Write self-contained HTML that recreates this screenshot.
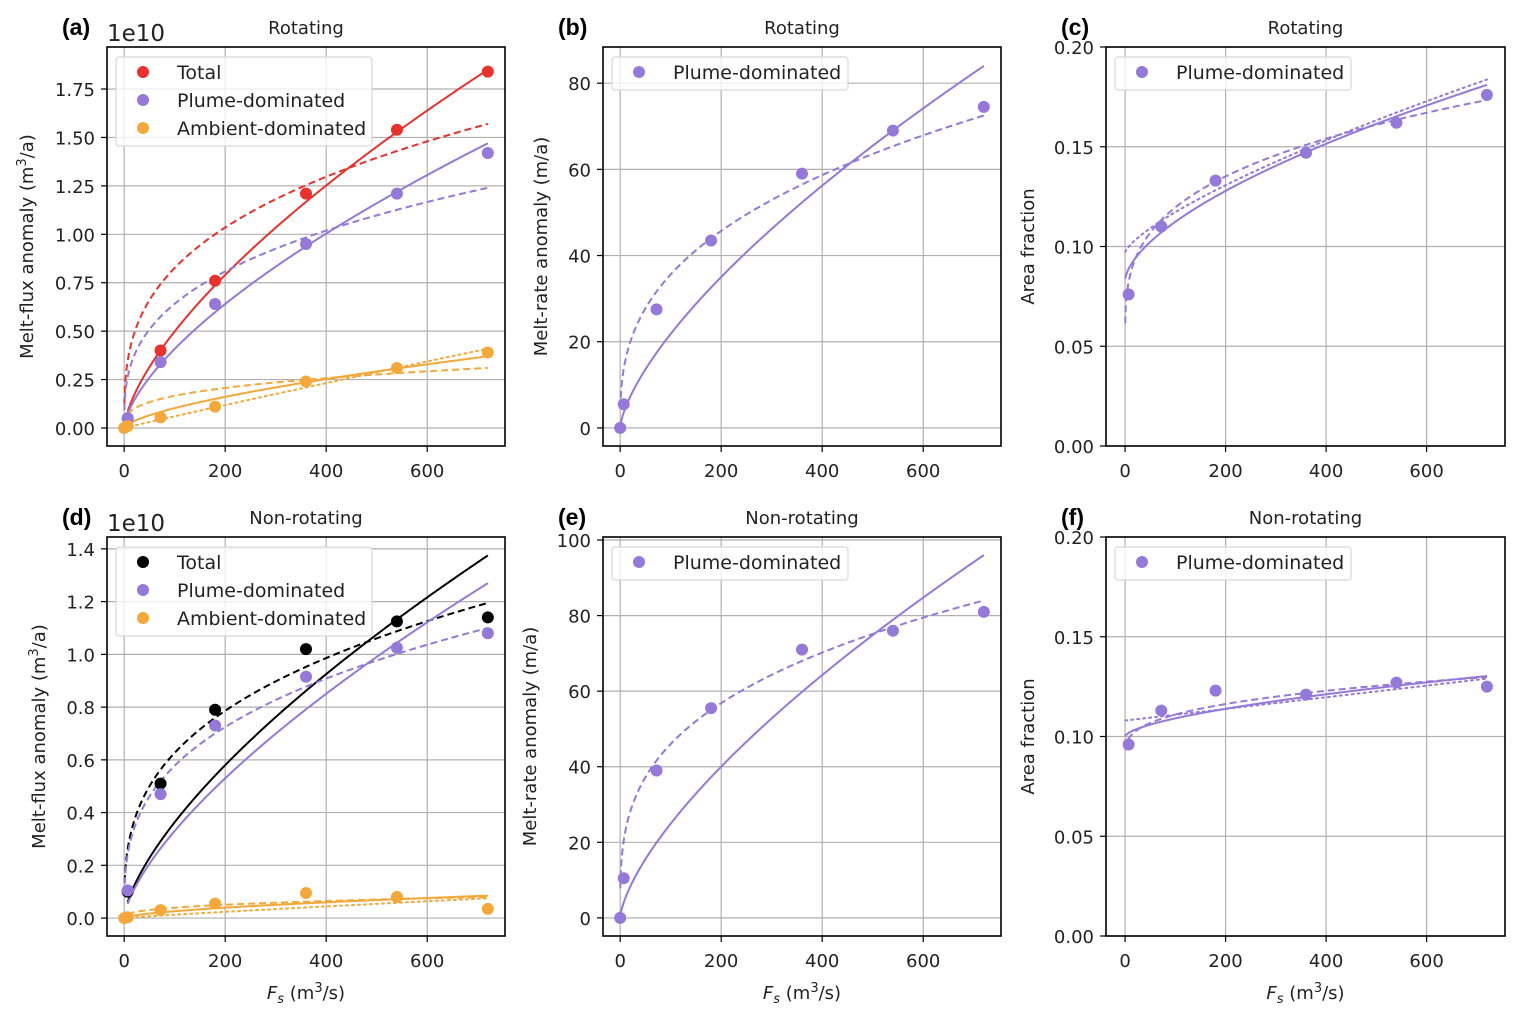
<!DOCTYPE html>
<html><head><meta charset="utf-8">
<style>
html,body{margin:0;padding:0;background:#fff;}
svg{display:block;font-family:"DejaVu Sans","Liberation Sans",sans-serif;}
</style></head>
<body>
<svg id="fig" width="1523" height="1018" viewBox="0 0 1523 1018" xmlns="http://www.w3.org/2000/svg"></svg>
<script>
// ---- data ----
const xsA = [0, 7, 72, 180, 360, 540, 720];
const xsP = [7, 72, 180, 360, 540, 720];
// panel a (rotating melt flux, 1e10)
const aTotal = [null, 0.05, 0.40, 0.76, 1.21, 1.54, 1.84];
const aPlume = [null, 0.05, 0.34, 0.64, 0.95, 1.21, 1.42];
const aAmb = [0, 0.01, 0.055, 0.11, 0.24, 0.31, 0.39];
// fits: [c, a_at_720, exponent]  y = c + a_at_720*(x/720)^b
const aTotalSolid = [0, 1.85, 0.664], aTotalDash = [0, 1.57, 0.325];
const aPlumeSolid = [0, 1.47, 0.649], aPlumeDash = [0, 1.24, 0.334];
const aAmbSolid = [0, 0.37, 0.65], aAmbDash = [0, 0.31, 0.316], aAmbDot = [0, 0.41, 0.97];
// panel d (non-rotating melt flux)
const dTotal = [null, 0.10, 0.51, 0.79, 1.02, 1.125, 1.14];
const dPlume = [null, 0.105, 0.47, 0.73, 0.915, 1.025, 1.08];
const dAmb = [0, 0.003, 0.03, 0.055, 0.095, 0.08, 0.035];
const dTotalSolid = [0, 1.375, 0.674], dTotalDash = [0, 1.195, 0.327];
const dPlumeSolid = [0, 1.27, 0.682], dPlumeDash = [0, 1.10, 0.326];
const dAmbSolid = [0, 0.085, 0.6], dAmbDash = [0, 0.08, 0.36], dAmbDot = [0, 0.075, 0.9];
// panel b / e (melt rate)
const bPlume = [0, 5.5, 27.5, 43.5, 59, 69, 74.5];
const bSolid = [0, 84, 0.683], bDash = [0, 72.5, 0.36];
const ePlume = [0, 10.5, 39, 55.5, 71, 76, 81];
const eSolid = [0, 96, 0.683], eDash = [0, 84, 0.305];
// panel c / f (area fraction)
const cPlume = [0.076, 0.110, 0.133, 0.147, 0.162, 0.176];
const cSolid = [0.083, 0.098, 0.61], cDash = [0.05, 0.1234, 0.29], cDot = [0.097, 0.0867, 0.737];
const fPlume = [0.096, 0.113, 0.123, 0.121, 0.127, 0.125];
const fSolid = [0.1, 0.0303, 0.61], fDash = [0.09, 0.0398, 0.324], fDot = [0.108, 0.021, 1.0];
const xTicks = [0, 200, 400, 600];
const aTicks = [0, 0.25, 0.5, 0.75, 1.0, 1.25, 1.5, 1.75];
const dTicks = [0, 0.2, 0.4, 0.6, 0.8, 1.0, 1.2, 1.4];
const bTicks = [0, 20, 40, 60, 80];
const eTicks = [0, 20, 40, 60, 80, 100];
const cTicks = [0, 0.05, 0.10, 0.15, 0.20];

const RED = '#e8322b', PUR = '#9478da', ORG = '#f4a83a', BLK = '#000';
const NS = 'http://www.w3.org/2000/svg';
const svg = document.getElementById('fig');
function mk(tag, attrs, parent) {
  const e = document.createElementNS(NS, tag);
  for (const k in attrs) e.setAttribute(k, attrs[k]);
  (parent || svg).appendChild(e);
  return e;
}
function panel(o) {
  const g = mk('g', {});
  
  
  const X = v => o.L + (v - o.xmin) / (o.xmax - o.xmin) * (o.R - o.L);
  const Y = v => o.B - (v - o.ymin) / (o.ymax - o.ymin) * (o.B - o.T);
  xTicks.forEach(t => {
    const l = mk('line', {x1: X(t), x2: X(t), y1: o.T, y2: o.B, stroke: '#b0b0b0', 'stroke-width': 1.2}, g);
    
    
  });
  o.yTicks.forEach(t => {
    const l = mk('line', {x1: o.L, x2: o.R, y1: Y(t), y2: Y(t), stroke: '#b0b0b0', 'stroke-width': 1.2}, g);
    
    
  });
  const cid = 'clip-' + o.name;
  const cp = mk('clipPath', {id: cid}, g);
  mk('rect', {x: o.L, y: o.T, width: o.R - o.L, height: o.B - o.T}, cp);
  const pg = mk('g', {'clip-path': 'url(#' + cid + ')'}, g);
  o.curves.forEach(c => {
    const p = c.fit; let d = '';
    for (let i = 0; i <= 400; i++) {
      const x = c.x0 + (720 - c.x0) * Math.pow(i / 400, 2);
      const y = p[0] + p[1] * Math.pow(x / 720, p[2]);
      d += (i ? 'L' : 'M') + X(x).toFixed(2) + ',' + Y(y).toFixed(2);
    }
    const dash = c.style === 'dash' ? '7,4' : c.style === 'dot' ? '2,4' : 'none';
    const path = mk('path', {d: d, fill: 'none', stroke: c.color, 'stroke-width': 2, 'stroke-dasharray': dash, 'stroke-linecap': c.style === 'dot' ? 'round' : 'butt'}, pg);
    
    
  });
  o.points.forEach(s => {
    s.vals.forEach((v, i) => {
      if (v === null) return;
      const c = mk('circle', {cx: X(s.xs[i]), cy: Y(v), r: 6, fill: s.color}, pg);
      
      
    });
  });
  const fr = mk('rect', {x: o.L, y: o.T, width: o.R - o.L, height: o.B - o.T, fill: 'none', stroke: '#000', 'stroke-width': 1.6}, g);
  
  
  xTicks.forEach(t => {
    mk('line', {x1: X(t), x2: X(t), y1: o.B, y2: o.B + 6, stroke: '#000', 'stroke-width': 1.2}, g);
    const tx = mk('text', {x: X(t), y: o.B + 31, 'text-anchor': 'middle', 'font-size': 18, fill: '#222'}, g);
    tx.textContent = t;
    
    
  });
  o.yTicks.forEach(t => {
    mk('line', {x1: o.L - 6, x2: o.L, y1: Y(t), y2: Y(t), stroke: '#000', 'stroke-width': 1.2}, g);
    const tx = mk('text', {x: o.L - 12, y: Y(t) + 7, 'text-anchor': 'end', 'font-size': 18, fill: '#222'}, g);
    tx.textContent = t.toFixed(o.dec);
    
    
  });
  const ti = mk('text', {x: (o.L + o.R) / 2, y: o.T - 13, 'text-anchor': 'middle', 'font-size': 18, fill: '#222'}, g);
  ti.textContent = o.title;
  
  
  const lt = mk('text', {x: o.L - 45, y: o.T - 12, 'font-size': 23, 'font-weight': 'bold', 'font-family': 'Liberation Sans, sans-serif', fill: '#000'}, g);
  lt.textContent = o.letter;
  
  
  if (o.offset) {
    const of = mk('text', {x: o.L, y: o.T - 6, 'font-size': 23, fill: '#222'}, g);
    of.textContent = '1e10';
    
    
  }
  const yl = mk('text', {x: o.ylx, y: (o.T + o.B) / 2, 'text-anchor': 'middle', 'font-size': 18, fill: '#222', transform: 'rotate(-90 ' + o.ylx + ' ' + (o.T + o.B) / 2 + ')'}, g);
  yl.innerHTML = o.ylabel;
  
  
  if (o.xlabel) {
    const xl = mk('text', {x: (o.L + o.R) / 2, y: o.B + 63, 'text-anchor': 'middle', 'font-size': 18, fill: '#222'}, g);
    xl.innerHTML = '<tspan font-style="italic">F</tspan><tspan font-style="italic" font-size="13" dy="4">s</tspan><tspan dy="-4"> (m</tspan><tspan font-size="13" dy="-7">3</tspan><tspan dy="7">/s)</tspan>';
    
    
  }
  const lg = mk('g', {}, g);
  
  
  const n = o.legend.length;
  mk('rect', {x: o.L + 9, y: o.T + 10, width: o.legW, height: 28 * n + 5, rx: 3, fill: 'rgba(255,255,255,0.8)', stroke: '#d8d8d8', 'stroke-width': 1.2}, lg);
  o.legend.forEach((e, i) => {
    const cy = o.T + 25 + 28 * i;
    const c = mk('circle', {cx: o.L + 36, cy: cy, r: 6, fill: e[1]}, lg);
    
    
    const t = mk('text', {x: o.L + 70, y: cy + 7, 'font-size': 19, fill: '#222'}, lg);
    t.textContent = e[0];
    
    
  });
}
const MF = 'Melt-flux anomaly (m<tspan font-size="13" dy="-7">3</tspan><tspan dy="7">/a)</tspan>';
const legFull = (tc) => [['Total', tc], ['Plume-dominated', PUR], ['Ambient-dominated', ORG]];
panel({name: 'panel-a', letter: '(a)', title: 'Rotating', L: 107, R: 505, T: 47, B: 446, xmin: -34, xmax: 754, ymin: -0.093, ymax: 1.967,
  yTicks: aTicks, dec: 2, offset: true, ylx: 33, ylabel: MF, legend: legFull(RED), legW: 256,
  curves: [
    {name: 'total-fit-solid', fit: aTotalSolid, color: RED, style: 'solid', x0: 7},
    {name: 'total-fit-dashed', fit: aTotalDash, color: RED, style: 'dash', x0: 0.3},
    {name: 'plume-fit-solid', fit: aPlumeSolid, color: PUR, style: 'solid', x0: 7},
    {name: 'plume-fit-dashed', fit: aPlumeDash, color: PUR, style: 'dash', x0: 0.3},
    {name: 'ambient-fit-solid', fit: aAmbSolid, color: ORG, style: 'solid', x0: 0.3},
    {name: 'ambient-fit-dashed', fit: aAmbDash, color: ORG, style: 'dash', x0: 7},
    {name: 'ambient-fit-dotted', fit: aAmbDot, color: ORG, style: 'dot', x0: 0.3}],
  points: [{name: 'total', xs: xsA, vals: aTotal, color: RED}, {name: 'plume', xs: xsA, vals: aPlume, color: PUR}, {name: 'ambient', xs: xsA, vals: aAmb, color: ORG}]});
panel({name: 'panel-d', letter: '(d)', title: 'Non-rotating', L: 107, R: 505, T: 537, B: 936, xmin: -34, xmax: 754, ymin: -0.068, ymax: 1.445,
  yTicks: dTicks, dec: 1, offset: true, ylx: 45, ylabel: MF, legend: legFull(BLK), legW: 256, xlabel: true,
  curves: [
    {name: 'total-fit-solid', fit: dTotalSolid, color: BLK, style: 'solid', x0: 7},
    {name: 'total-fit-dashed', fit: dTotalDash, color: BLK, style: 'dash', x0: 0.3},
    {name: 'plume-fit-solid', fit: dPlumeSolid, color: PUR, style: 'solid', x0: 7},
    {name: 'plume-fit-dashed', fit: dPlumeDash, color: PUR, style: 'dash', x0: 0.3},
    {name: 'ambient-fit-solid', fit: dAmbSolid, color: ORG, style: 'solid', x0: 0.3},
    {name: 'ambient-fit-dashed', fit: dAmbDash, color: ORG, style: 'dash', x0: 7},
    {name: 'ambient-fit-dotted', fit: dAmbDot, color: ORG, style: 'dot', x0: 0.3}],
  points: [{name: 'total', xs: xsA, vals: dTotal, color: BLK}, {name: 'plume', xs: xsA, vals: dPlume, color: PUR}, {name: 'ambient', xs: xsA, vals: dAmb, color: ORG}]});
const MR = 'Melt-rate anomaly (m/a)';
panel({name: 'panel-b', letter: '(b)', title: 'Rotating', L: 603, R: 1001, T: 47, B: 446, xmin: -34, xmax: 754, ymin: -4.2, ymax: 88.4,
  yTicks: bTicks, dec: 0, ylx: 547, ylabel: MR, legend: [['Plume-dominated', PUR]], legW: 236,
  curves: [{name: 'plume-fit-solid', fit: bSolid, color: PUR, style: 'solid', x0: 0.3},
    {name: 'plume-fit-dashed', fit: bDash, color: PUR, style: 'dash', x0: 0.3}],
  points: [{name: 'plume', xs: xsA, vals: bPlume, color: PUR}]});
panel({name: 'panel-e', letter: '(e)', title: 'Non-rotating', L: 603, R: 1001, T: 537, B: 936, xmin: -34, xmax: 754, ymin: -4.8, ymax: 100.8,
  yTicks: eTicks, dec: 0, ylx: 536, ylabel: MR, legend: [['Plume-dominated', PUR]], legW: 236, xlabel: true,
  curves: [{name: 'plume-fit-solid', fit: eSolid, color: PUR, style: 'solid', x0: 0.3},
    {name: 'plume-fit-dashed', fit: eDash, color: PUR, style: 'dash', x0: 0.3}],
  points: [{name: 'plume', xs: xsA, vals: ePlume, color: PUR}]});
panel({name: 'panel-c', letter: '(c)', title: 'Rotating', L: 1106, R: 1505, T: 47, B: 446, xmin: -38, xmax: 756, ymin: 0, ymax: 0.2,
  yTicks: cTicks, dec: 2, ylx: 1034, ylabel: 'Area fraction', legend: [['Plume-dominated', PUR]], legW: 236,
  curves: [{name: 'plume-fit-solid', fit: cSolid, color: PUR, style: 'solid', x0: 0.3},
    {name: 'plume-fit-dashed', fit: cDash, color: PUR, style: 'dash', x0: 0.2},
    {name: 'plume-fit-dotted', fit: cDot, color: PUR, style: 'dot', x0: 0.3}],
  points: [{name: 'plume', xs: xsP, vals: cPlume, color: PUR}]});
panel({name: 'panel-f', letter: '(f)', title: 'Non-rotating', L: 1106, R: 1505, T: 537, B: 936, xmin: -38, xmax: 756, ymin: 0, ymax: 0.2,
  yTicks: cTicks, dec: 2, ylx: 1034, ylabel: 'Area fraction', legend: [['Plume-dominated', PUR]], legW: 236, xlabel: true,
  curves: [{name: 'plume-fit-solid', fit: fSolid, color: PUR, style: 'solid', x0: 0.3},
    {name: 'plume-fit-dashed', fit: fDash, color: PUR, style: 'dash', x0: 0.3},
    {name: 'plume-fit-dotted', fit: fDot, color: PUR, style: 'dot', x0: 0.3}],
  points: [{name: 'plume', xs: xsP, vals: fPlume, color: PUR}]});
</script>
</body></html>
